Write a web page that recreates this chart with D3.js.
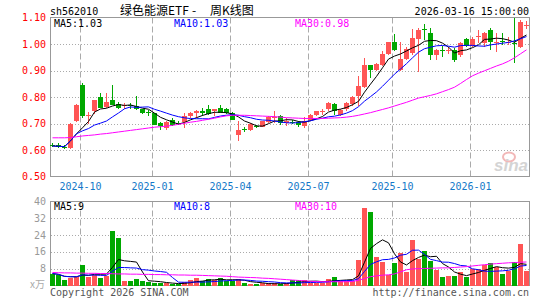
<!DOCTYPE html>
<html>
<head>
<meta charset="utf-8">
<script src="https://cdn.jsdelivr.net/npm/d3@7"></script>
<style>
	body { margin: 0; background: #fff; }
	svg text { font-family: 'DejaVu Sans Mono', monospace; font-size: 10px; }
</style>
</head>
<body>
<svg id="chart" width="545" height="300"></svg>
<script>
// weekly candles, oldest first (80 weeks up to 2026-03-16)
var opens = [0.617,0.617,0.612,0.608,0.711,0.844,0.728,0.747,0.801,0.762,
	0.787,0.772,0.768,0.770,0.766,0.753,0.742,0.738,0.701,0.684,
	0.715,0.703,0.706,0.728,0.738,0.749,0.753,0.747,0.757,0.756,
	0.741,0.658,0.678,0.677,0.691,0.687,0.706,0.722,0.728,0.703,
	0.707,0.706,0.690,0.715,0.732,0.746,0.756,0.775,0.732,0.753,
	0.772,0.804,0.838,0.920,0.903,0.922,0.962,1.009,0.901,0.943,
	0.967,1.018,1.056,1.040,0.959,0.979,0.975,0.977,0.959,1.018,
	0.992,1.028,1.003,1.053,1.003,1.010,1.003,1.005,0.990,1.070];
var highs = [0.625,0.625,0.618,0.702,0.772,0.852,0.745,0.790,0.816,0.814,
	0.844,0.781,0.778,0.778,0.804,0.756,0.750,0.740,0.706,0.709,
	0.719,0.708,0.738,0.743,0.751,0.759,0.770,0.753,0.770,0.759,
	0.743,0.709,0.688,0.701,0.696,0.711,0.728,0.747,0.732,0.722,
	0.712,0.709,0.724,0.734,0.749,0.756,0.781,0.778,0.753,0.781,
	0.804,0.880,0.949,0.920,0.930,0.975,1.009,1.038,1.006,0.987,
	1.055,1.059,1.075,1.059,0.983,0.992,0.987,0.984,1.009,1.021,
	1.025,1.053,1.046,1.059,1.040,1.043,1.025,1.097,1.090,1.085];
var lows = [0.610,0.608,0.602,0.603,0.706,0.722,0.697,0.735,0.757,0.760,
	0.768,0.756,0.756,0.753,0.750,0.734,0.728,0.694,0.677,0.677,
	0.692,0.696,0.684,0.719,0.722,0.728,0.732,0.728,0.738,0.734,
	0.713,0.635,0.668,0.673,0.683,0.686,0.703,0.703,0.696,0.690,
	0.700,0.686,0.684,0.711,0.728,0.732,0.747,0.732,0.728,0.749,
	0.766,0.766,0.835,0.873,0.899,0.918,0.959,0.972,0.899,0.939,
	0.959,0.896,1.015,0.940,0.940,0.952,0.962,0.931,0.952,0.987,
	0.987,1.003,0.987,0.977,0.971,0.996,0.996,0.927,0.985,1.058];
var closes = [0.615,0.613,0.610,0.700,0.768,0.728,0.732,0.787,0.759,0.782,
	0.770,0.760,0.770,0.768,0.753,0.738,0.740,0.696,0.690,0.706,
	0.696,0.700,0.728,0.739,0.747,0.738,0.734,0.753,0.741,0.738,
	0.715,0.677,0.676,0.699,0.689,0.709,0.724,0.725,0.703,0.711,
	0.705,0.694,0.711,0.732,0.747,0.748,0.778,0.747,0.751,0.778,
	0.800,0.842,0.920,0.903,0.924,0.962,1.006,0.977,0.943,0.981,
	1.021,1.053,1.053,0.959,0.977,0.975,0.978,0.940,1.003,0.992,
	1.018,1.031,1.043,1.009,1.009,1.008,1.006,1.000,1.083,1.073];
// volume, 万
var volumes = [5.7,4.9,2.5,3.6,4.1,9.7,4.1,5.2,3.6,4.6,
	25.8,22.6,2.2,2.2,3.0,2.2,1.7,1.2,1.0,1.0,
	0.8,0.6,1.7,2.5,3.6,2.0,3.0,2.5,3.8,2.2,
	2.2,3.0,1.3,0.6,0.6,1.0,1.0,1.0,0.6,1.0,
	2.5,2.5,2.8,1.3,1.3,1.3,3.3,4.1,2.2,2.2,
	2.2,12.0,36.9,35.0,13.6,11.2,4.9,10.8,15.5,6.5,
	21.5,12.5,16.3,11.7,7.6,4.1,4.4,4.4,6.5,4.1,
	8.0,8.0,9.6,10.8,8.6,5.4,7.0,11.4,19.6,7.0];
// 30-week averages as drawn (history before the first week is not shown)
var priceMa30 = [0.646,0.646,0.646,0.647,0.650,0.653,0.655,0.657,0.660,0.662,
	0.665,0.668,0.671,0.674,0.677,0.680,0.683,0.686,0.688,0.690,
	0.693,0.697,0.701,0.705,0.708,0.712,0.716,0.720,0.725,0.729,
	0.731,0.731,0.731,0.730,0.729,0.728,0.727,0.726,0.724,0.722,
	0.721,0.720,0.719,0.719,0.719,0.719,0.720,0.721,0.722,0.724,
	0.727,0.731,0.736,0.741,0.747,0.753,0.759,0.766,0.773,0.780,
	0.788,0.796,0.801,0.806,0.812,0.820,0.828,0.837,0.851,0.866,
	0.880,0.890,0.899,0.908,0.917,0.925,0.935,0.948,0.963,0.978];
var volMa30 = [6.2,6.1,6.0,6.0,5.9,5.9,5.8,5.8,5.7,5.7,
	5.6,5.5,5.5,5.4,5.4,5.3,5.3,5.2,5.2,5.1,
	5.1,5.0,5.0,4.9,4.9,4.8,4.7,4.6,4.5,4.4,
	4.2,4.0,3.9,3.8,3.7,3.5,3.4,3.2,3.0,2.8,
	2.6,2.4,2.2,2.0,1.9,1.8,1.8,1.8,1.8,1.8,
	1.9,2.5,3.3,4.2,4.6,4.9,5.1,5.5,6.5,7.5,
	7.9,8.0,8.1,8.2,8.3,8.4,8.4,8.6,8.8,9.0,
	9.3,9.6,9.9,10.2,10.4,10.6,10.8,10.9,11.1,11.2];

var tickIdx = [5, 17, 30, 43, 57, 70];
var tickLabels = ['2024-10', '2025-01', '2025-04', '2025-07', '2025-10', '2026-01'];
var priceTicks = [0.5, 0.6, 0.7, 0.8, 0.9, 1.0, 1.1];
var volTicks = [8, 16, 24, 32, 40];
var priceLegend = ['MA5:1.03', 'MA10:1.03', 'MA30:0.98'];
var volLegend = ['MA5:9', 'MA10:8', 'MA30:10'];
var titleParts = ['绿色能源ETF', '-', '周K线图'];

var red = '#ff5555', green = '#00a800', gridColor = '#aaa', frameColor = '#999';
var maColors = ['#000', '#0000ff', '#ff00ff'];

function movingAvg(vals, n) {
	return vals.map((d, i) => d3.mean(vals.slice(Math.max(0, i - n + 1), i + 1)));
}

function drawFrame(svg, top, bottom) {
	svg.append('rect')
		.attr('x', 50.5).attr('y', top).attr('width', 479).attr('height', bottom - top)
		.style('fill', 'none').style('stroke', frameColor).style('shape-rendering', 'crispEdges');
}

function init() {
	let svg = d3.select('#chart');
	let n = closes.length;

	let x = d3.scaleLinear().domain([0, n - 1]).range([52.5, 52.5 + 6 * (n - 1)]);
	let yPrice = d3.scaleLinear().domain([0.5, 1.1]).range([176.5, 17.5]);
	let yVol = d3.scaleLinear().domain([0, 40]).range([285.5, 201.5]);

	// grids
	svg.append('g').selectAll('line').data(priceTicks.slice(1, -1)).join('line')
		.attr('x1', 51).attr('x2', 529)
		.attr('y1', d => Math.round(yPrice(d)) + 0.5).attr('y2', d => Math.round(yPrice(d)) + 0.5)
		.style('stroke', gridColor).style('stroke-dasharray', '1,2');
	svg.append('g').selectAll('line').data(volTicks.slice(0, -1)).join('line')
		.attr('x1', 51).attr('x2', 529)
		.attr('y1', d => Math.round(yVol(d)) + 0.5).attr('y2', d => Math.round(yVol(d)) + 0.5)
		.style('stroke', gridColor).style('stroke-dasharray', '1,2');
	[[17.5, 176.5], [201.5, 285.5]].forEach(r => {
		svg.append('g').selectAll('line').data(tickIdx).join('line')
			.attr('x1', d => x(d) - 2).attr('x2', d => x(d) - 2)
			.attr('y1', r[0]).attr('y2', r[1])
			.style('stroke', gridColor).style('stroke-dasharray', '6,3');
	});

	// watermark
	let wm = svg.append('g');
	wm.append('ellipse').attr('cx', 509).attr('cy', 157).attr('rx', 6).attr('ry', 4.5)
		.style('fill', 'none').style('stroke', '#f2b8b8').style('stroke-width', 2);
	wm.append('text').attr('x', 528).attr('y', 171).attr('text-anchor', 'end')
		.style('font-family', 'Liberation Sans, sans-serif').style('font-size', '17px')
		.style('font-style', 'italic').style('font-weight', 'bold').style('fill', '#d4d4d4')
		.text('sina');

	drawFrame(svg, 17.5, 176.5);
	drawFrame(svg, 201.5, 285.5);

	// candles
	let candles = svg.append('g').style('shape-rendering', 'crispEdges');
	let idx = d3.range(n);
	let col = i => closes[i] >= opens[i] ? red : green;
	candles.selectAll('rect.wick').data(idx).join('rect')
		.attr('class', 'wick')
		.attr('x', i => x(i) - 0.5).attr('width', 1)
		.attr('y', i => Math.round(yPrice(highs[i])))
		.attr('height', i => Math.max(1, Math.round(yPrice(lows[i])) - Math.round(yPrice(highs[i]))))
		.style('fill', col);
	candles.selectAll('rect.body').data(idx).join('rect')
		.attr('class', 'body')
		.attr('x', i => x(i) - 2.5).attr('width', 5)
		.attr('y', i => Math.round(yPrice(Math.max(opens[i], closes[i]))))
		.attr('height', i => Math.max(1, Math.round(yPrice(Math.min(opens[i], closes[i]))) - Math.round(yPrice(Math.max(opens[i], closes[i])))))
		.style('fill', col);

	// volume bars
	svg.append('g').style('shape-rendering', 'crispEdges')
		.selectAll('rect').data(idx).join('rect')
		.attr('x', i => x(i) - 2.5).attr('width', 5)
		.attr('y', i => Math.round(yVol(volumes[i])))
		.attr('height', i => 286 - Math.round(yVol(volumes[i])))
		.style('fill', col);

	// moving averages
	let priceMas = [movingAvg(closes, 5), movingAvg(closes, 10), priceMa30];
	let volMas = [movingAvg(volumes, 5), movingAvg(volumes, 10), volMa30];
	priceMas.forEach((s, k) => {
		svg.append('path').datum(s)
			.attr('d', d3.line().x((d, i) => x(i)).y(d => yPrice(d)))
			.style('fill', 'none').style('stroke', maColors[k]).style('stroke-width', 1);
	});
	volMas.forEach((s, k) => {
		svg.append('path').datum(s)
			.attr('d', d3.line().x((d, i) => x(i)).y(d => yVol(d)))
			.style('fill', 'none').style('stroke', maColors[k]).style('stroke-width', 1);
	});

	// axis labels
	svg.append('g').selectAll('text').data(priceTicks).join('text')
		.attr('x', 46).attr('y', d => yPrice(d) + 3.5).attr('text-anchor', 'end')
		.style('fill', '#ff0000').text(d => d.toFixed(2));
	svg.append('g').selectAll('text').data(volTicks).join('text')
		.attr('x', 46).attr('y', d => yVol(d) + 3.5).attr('text-anchor', 'end')
		.style('fill', '#999').text(d => d);
	svg.append('text').attr('x', 45).attr('y', 288).attr('text-anchor', 'end')
		.style('font-family', 'Noto Sans CJK SC').style('font-size', '10px').style('fill', '#aaa')
		.text('x万');
	svg.append('g').selectAll('text').data(tickIdx).join('text')
		.attr('x', d => x(d) - 2).attr('y', 190).attr('text-anchor', 'middle')
		.style('fill', '#1478c8').text((d, i) => tickLabels[i]);

	// legends
	let legendX = [54, 174, 295];
	svg.append('g').selectAll('text').data(priceLegend).join('text')
		.attr('x', (d, i) => legendX[i]).attr('y', 27)
		.style('fill', (d, i) => maColors[i]).text(d => d);
	svg.append('g').selectAll('text').data(volLegend).join('text')
		.attr('x', (d, i) => legendX[i]).attr('y', 210)
		.style('fill', (d, i) => maColors[i]).text(d => d);

	// header and footer
	svg.append('text').attr('x', 50).attr('y', 15).style('fill', '#000').text('sh562010');
	let titleX = [120, 192, 210];
	svg.append('g').selectAll('text').data(titleParts).join('text')
		.attr('x', (d, i) => titleX[i]).attr('y', 14.5)
		.style('font-family', 'Noto Sans CJK SC').style('font-size', '12px')
		.style('fill', '#000').text(d => d);
	svg.append('text').attr('x', 529).attr('y', 15).attr('text-anchor', 'end')
		.style('fill', '#000').text('2026-03-16 15:00:00');
	svg.append('text').attr('x', 50).attr('y', 296).style('fill', '#555').text('Copyright 2026 SINA.COM');
	svg.append('text').attr('x', 529).attr('y', 296).attr('text-anchor', 'end')
		.style('fill', '#555').text('http://finance.sina.com.cn');
}

init();
</script>
</body>
</html>
